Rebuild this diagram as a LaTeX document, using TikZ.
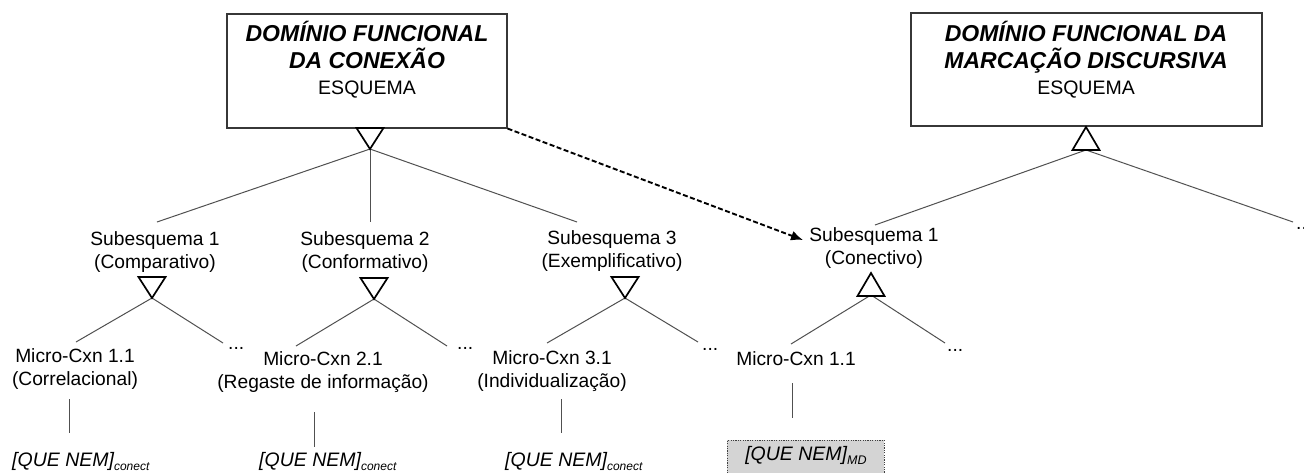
\documentclass[tikz,border=0pt]{standalone}
\usepackage{fontspec}
\setmainfont{Liberation Sans}
\usetikzlibrary{arrows.meta}
\definecolor{lc}{RGB}{80,80,80}
\definecolor{bc}{RGB}{55,55,55}
\definecolor{gfill}{RGB}{212,212,212}
\begin{document}
\begin{tikzpicture}[x=1pt,y=-1pt,
  conn/.style={draw=lc, line width=1pt},
  tri/.style={draw=black, line width=1.7pt, line join=miter, fill=white},
  schemebox/.style={draw=bc, line width=1.1pt, rectangle, inner sep=0pt},
  titletxt/.style={align=center, inner sep=0pt, font=\fontsize{23}{26.5}\selectfont\bfseries\itshape},
  txt/.style={align=center, inner sep=0pt, font=\fontsize{19.2}{22.5}\selectfont},
  dots/.style={inner sep=0pt, anchor=base west, font=\fontsize{19.2}{22.5}\selectfont},
  qtxt/.style={inner sep=0pt, anchor=base west, font=\fontsize{19.5}{22}\selectfont\itshape},
  mdbox/.style={draw=black!75, fill=gfill, line width=0.8pt, dash pattern=on 1.2pt off 1.2pt,
    anchor=north west, minimum width=157pt, text height=14pt, text depth=22pt, inner xsep=15pt, inner ysep=6pt,
    font=\fontsize{19.5}{22}\selectfont\itshape},
  dasharrow/.style={draw=black, line width=1.9pt, dash pattern=on 5pt off 2.5pt, -{Latex[length=12pt,width=10pt]}},
  downtri/.pic={\draw[tri] (-13.5,-21) -- (13.5,-21) -- (0,0) -- cycle;},
  uptri/.pic={\draw[tri] (-13.5,23) -- (13.5,23) -- (0,0) -- cycle;}
]
\useasboundingbox (0,0) rectangle (1304,472);

% ---------- top boxes ----------
\node[schemebox, minimum width=280pt, minimum height=114pt] (box1) at (367,71) {};
\node[titletxt] (box1t) at (367,60) {DOMÍNIO FUNCIONAL\\DA CONEXÃO\\{\fontsize{19.5}{26.5}\selectfont\mdseries\upshape ESQUEMA}};

\node[schemebox, minimum width=351pt, minimum height=113pt] (box2) at (1086.5,69.5) {};
\node[titletxt] (box2t) at (1086,60) {DOMÍNIO FUNCIONAL DA\\MARCAÇÃO DISCURSIVA\\{\fontsize{19.5}{26.5}\selectfont\mdseries\upshape ESQUEMA}};

% ---------- coordinates ----------
\coordinate (a1) at (370,149);
\coordinate (a2) at (1086,150);
\coordinate (s1top) at (157,222);
\coordinate (s2top) at (370,222);
\coordinate (s3top) at (577,222);
\coordinate (sCtop) at (875,225);
\coordinate (rEnd) at (1293,222);

\coordinate (b1) at (152,298);
\coordinate (b2) at (374,299);
\coordinate (b3) at (625,298);
\coordinate (bC) at (871,295);

\coordinate (b1l) at (76,342);   \coordinate (b1r) at (223,343);
\coordinate (b2l) at (296,346);  \coordinate (b2r) at (447,346);
\coordinate (b3l) at (547,343);  \coordinate (b3r) at (698,342);
\coordinate (bCl) at (791,344);  \coordinate (bCr) at (945,343);

\coordinate (v1a) at (69,399);   \coordinate (v1b) at (69,433);
\coordinate (v2a) at (314,412);  \coordinate (v2b) at (314,447);
\coordinate (v3a) at (561,399);  \coordinate (v3b) at (561,433);
\coordinate (vCa) at (792,383);  \coordinate (vCb) at (792,418);

\coordinate (arrtip) at (803,240);

% ---------- connectors ----------
\draw[conn] (a1) -- (s1top);
\draw[conn] (a1) -- (s2top);
\draw[conn] (a1) -- (s3top);
\draw[conn] (a2) -- (sCtop);
\draw[conn] (a2) -- (rEnd);

\draw[conn] (b1) -- (b1l);  \draw[conn] (b1) -- (b1r);
\draw[conn] (b2) -- (b2l);  \draw[conn] (b2) -- (b2r);
\draw[conn] (b3) -- (b3l);  \draw[conn] (b3) -- (b3r);
\draw[conn] (bC) -- (bCl);  \draw[conn] (bC) -- (bCr);

\draw[conn] (v1a) -- (v1b);
\draw[conn] (v2a) -- (v2b);
\draw[conn] (v3a) -- (v3b);
\draw[conn] (vCa) -- (vCb);

\draw[dasharrow] (box1.south east) -- (arrtip);

% ---------- triangles ----------
\pic at (a1) {downtri};
\pic at (1086,127) {uptri};
\pic at (b1) {downtri};
\pic at (b2) {downtri};
\pic at (b3) {downtri};
\pic at (871,273) {uptri};

% ---------- texts ----------
\node[txt] (sub1) at (155,252) {Subesquema 1\\(Comparativo)};
\node[txt] (sub2) at (365,252) {Subesquema 2\\(Conformativo)};
\node[txt] (sub3) at (612,251) {Subesquema 3\\(Exemplificativo)};
\node[txt] (subC) at (874,248) {Subesquema 1\\(Conectivo)};

\node[txt] (m1) at (75,369) {Micro-Cxn 1.1\\(Correlacional)};
\node[txt] (m2) at (323,372) {Micro-Cxn 2.1\\(Regaste de informação)};
\node[txt] (m3) at (552,371) {Micro-Cxn 3.1\\(Individualização)};
\node[txt, anchor=base] (mC) at (796,365) {Micro-Cxn 1.1};

\node[dots] (d1) at (228,349) {...};
\node[dots] (d2) at (457,349) {...};
\node[dots] (d3) at (702,350) {...};
\node[dots] (d4) at (947,351) {...};
\node[dots] (d5) at (1296,229) {...};

\node[qtxt] (q1) at (12,466) {[QUE NEM]\raisebox{-4pt}{\fontsize{12}{12}\selectfont conect}};
\node[qtxt] (q2) at (259,466) {[QUE NEM]\raisebox{-4pt}{\fontsize{12}{12}\selectfont conect}};
\node[qtxt] (q3) at (505,466) {[QUE NEM]\raisebox{-4pt}{\fontsize{12}{12}\selectfont conect}};
\node[mdbox] (qmd) at (727,440) {[QUE NEM]\raisebox{-4pt}{\fontsize{12.5}{12.5}\selectfont MD}};
\end{tikzpicture}
\end{document}
